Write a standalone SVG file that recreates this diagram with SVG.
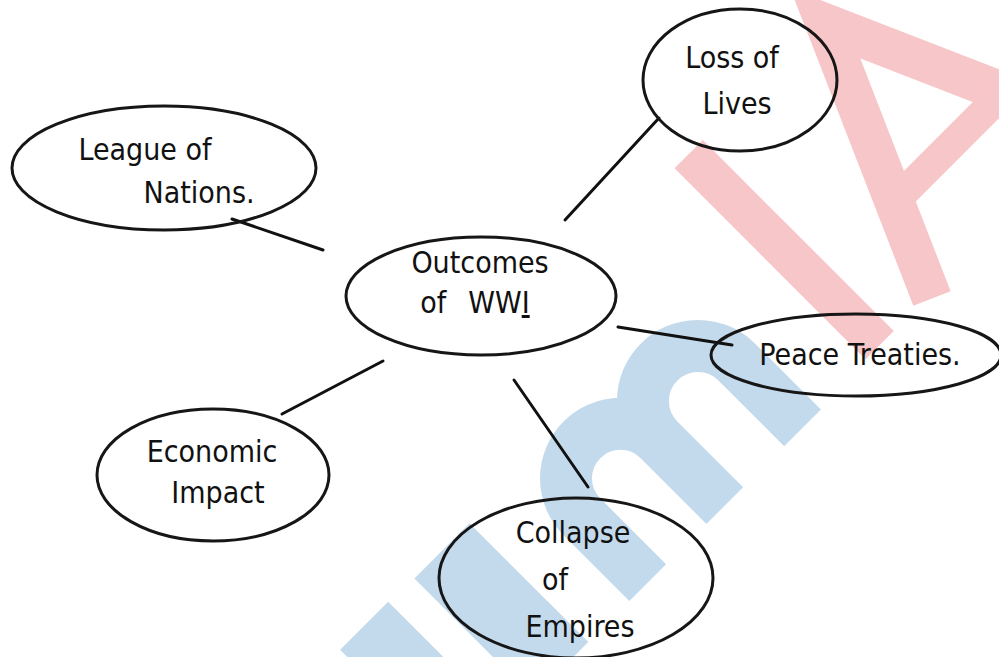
<svg xmlns="http://www.w3.org/2000/svg" width="999" height="657" viewBox="0 0 999 657">
  <style>
    .node ellipse { fill: none; stroke: #161616; stroke-width: 3; }
    .lbl { font-family: "Liberation Sans Narrow", "DejaVu Sans Condensed", "Liberation Sans", sans-serif; font-size: 30px; fill: #111; text-anchor: middle; }
    .conn line { stroke: #111; stroke-width: 3; stroke-linecap: round; }
    .wmb { fill: none; stroke: #c3daed; stroke-linecap: butt; }
    .wmr { fill: none; stroke: #f7c6c8; stroke-linecap: butt; stroke-linejoin: miter; }
  </style>
  <rect x="0" y="0" width="999" height="657" fill="#ffffff"/>

  <!-- watermark background shapes -->
  <g id="watermark" transform="rotate(-45)">
    <rect x="-219" y="700" width="68" height="170" fill="#c3daed"/>
    <rect x="-116" y="702" width="78" height="168" fill="#c3daed"/>
    <path class="wmb" stroke-width="52" d="M46,870 V777 A54.5,54.5 0 0 1 155,777 V870 M155,777 A55,55 0 0 1 265,777 V870"/>
    <line class="wmr" stroke-width="40" x1="378" y1="596" x2="378" y2="866"/>
    <polyline class="wmr" stroke-width="40" points="448,870 567,600 686,870"/>
    <line class="wmr" stroke-width="30" x1="490" y1="775" x2="644" y2="775"/>
  </g>

  <g id="connectors" class="conn">
    <line x1="232" y1="219" x2="323" y2="250"/>
    <line x1="659" y1="118" x2="565" y2="220"/>
    <line x1="618" y1="327" x2="732" y2="345"/>
    <line x1="383" y1="361" x2="282" y2="414"/>
    <line x1="514" y1="380" x2="588" y2="487"/>
  </g>

  <g id="node-center" class="node">
    <ellipse cx="481" cy="296" rx="135" ry="59"/>
    <text class="lbl" x="480" y="273">Outcomes</text>
    <text class="lbl" x="475" y="313">of<tspan dx="22">WW</tspan><tspan text-decoration="underline">I</tspan></text>
  </g>

  <g id="node-league" class="node">
    <ellipse cx="164" cy="168" rx="152" ry="62"/>
    <text class="lbl" x="145" y="160">League of</text>
    <text class="lbl" x="199" y="203">Nations.</text>
  </g>

  <g id="node-loss" class="node">
    <ellipse cx="740" cy="80" rx="97" ry="71"/>
    <text class="lbl" x="732" y="68">Loss of</text>
    <text class="lbl" x="737" y="114">Lives</text>
  </g>

  <g id="node-peace" class="node">
    <ellipse cx="856" cy="355" rx="145" ry="41"/>
    <text class="lbl" x="860" y="365">Peace Treaties.</text>
  </g>

  <g id="node-economic" class="node">
    <ellipse cx="213" cy="475" rx="116" ry="66"/>
    <text class="lbl" x="212" y="462">Economic</text>
    <text class="lbl" x="218" y="503">Impact</text>
  </g>

  <g id="node-collapse" class="node">
    <ellipse cx="576" cy="578" rx="137" ry="80"/>
    <text class="lbl" x="573" y="543">Collapse</text>
    <text class="lbl" x="555" y="590">of</text>
    <text class="lbl" x="580" y="637">Empires</text>
  </g>
</svg>
